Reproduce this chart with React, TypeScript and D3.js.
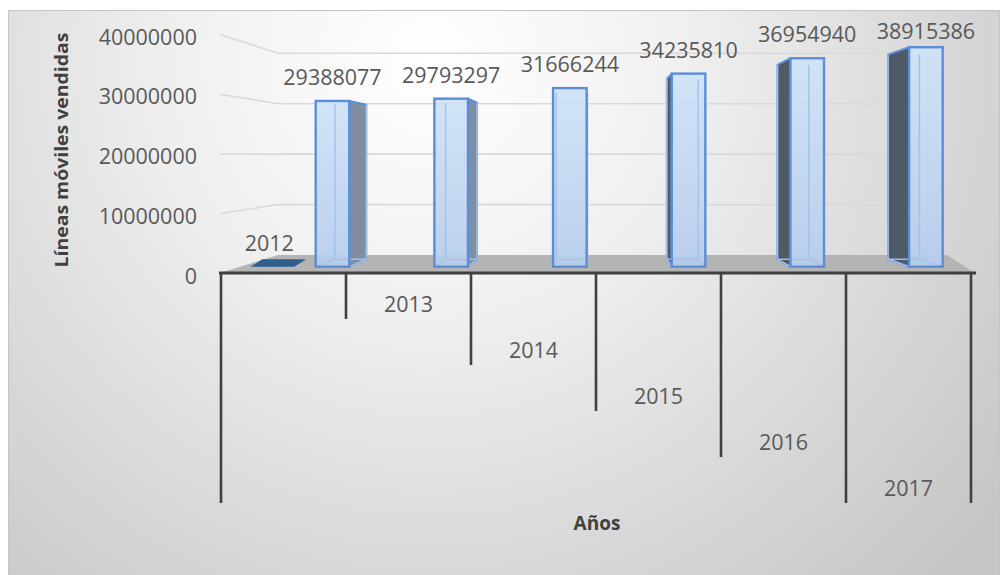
import React from 'react';
import * as d3 from 'd3';

// ---- data ----
const years = ['2012', '2013', '2014', '2015', '2016', '2017'];
const lineas = [2012, 29388077, 29793297, 31666244, 34235810, 36954940, 38915386];
const yTicks = [0, 10000000, 20000000, 30000000, 40000000];
const yTitle = 'Líneas móviles vendidas';
const xTitle = 'Años';

const W = 1000;
const H = 575;
const FONT = "'Open Sans', 'Liberation Sans', sans-serif";
const VP = [599.5, 157];
const K = 0.0679;
const proj = (x: number, y: number, z: number): [number, number] => [
  VP[0] + (x - VP[0]) * (1 - K * z),
  VP[1] + (y - VP[1]) * (1 - K * z),
];
const pts = (a: [number, number][]) => a.map((p) => p.join(',')).join(' ');

export default function App() {
  const frontY = d3.scaleLinear().domain([0, 40000000]).range([273.5, 34.5]);
  const backY = d3.scaleLinear().domain([0, 40000000]).range([255, 53.3]);
  const barY = d3.scaleLinear().domain([0, 40000000]).range([266.7, 41.1]);
  const seg = d3.scaleBand<string>().domain(years).range([221, 971]);
  const bw = seg.bandwidth();
  const barIdx = lineas.slice(1).map((_, i) => String(i + 1));
  const barX = d3.scalePoint<string>().domain(barIdx).range([332.5, 925.9]);
  const level = d3.scaleLinear().domain([0, 5]).range([273, 503]);

  const halfW = 16.8;
  const floorBack = backY(0);
  const floorFront = frontY(0) - 0.5;

  const bars = lineas.map((v, i) => {
    if (i === 0) {
      const cx = (seg(years[0]) as number) + bw * 0.41;
      const yb = barY(0);
      const yt = barY(v);
      const x0 = cx - 22;
      const x1 = cx + 22;
      const top: [number, number][] = [
        [x0, yt],
        [x1, yt],
        [x1 + 12, yb - 7.4],
        [x0 + 12, yb - 7.4],
      ];
      return (
        <g key={i}>
          <polygon points={pts(top)} fill="#2f5f8e" />
          <text x={cx - 3} y={yt - 24.5} textAnchor="middle" dominantBaseline="central"
            fontFamily={FONT} fontSize={21.5} fill="#595959">{String(v)}</text>
        </g>
      );
    }
    const cx = barX(String(i)) as number;
    const x0 = cx - halfW;
    const x1 = cx + halfW;
    const yt = barY(v);
    const yb = barY(0);
    const bTL = proj(x0, yt, 1);
    const bTR = proj(x1, yt, 1);
    const bBL = proj(x0, yb, 1);
    const bBR = proj(x1, yb, 1);
    let side = null;
    if (x1 < VP[0] - 15) {
      side = (
        <polygon points={pts([[x1, yt], bTR, bBR, [x1, yb]])} fill="#7f8ea1"
          stroke="#5b8ed6" strokeWidth={2} strokeLinejoin="round" />
      );
    } else if (x0 > VP[0] + 15) {
      side = (
        <polygon points={pts([[x0, yt], bTL, bBL, [x0, yb]])} fill="#4f5a67"
          stroke="#5b8ed6" strokeWidth={2} strokeLinejoin="round" />
      );
    }
    const labelY = Math.max(yt - 24.5, 30);
    return (
      <g key={i}>
        {side}
        <rect x={x0} y={yt} width={x1 - x0} height={yb - yt} fill="url(#barGrad)" />
        <g stroke="#a3c2ea" strokeWidth={1.4} fill="none">
          <line x1={bTL[0]} y1={bTL[1]} x2={bBL[0]} y2={bBL[1]} />
          <line x1={bTR[0]} y1={bTR[1]} x2={bBR[0]} y2={bBR[1]} />
          <line x1={bBL[0]} y1={bBL[1]} x2={bBR[0]} y2={bBR[1]} />
          <line x1={x0} y1={yb} x2={bBL[0]} y2={bBL[1]} />
          <line x1={x1} y1={yb} x2={bBR[0]} y2={bBR[1]} />
        </g>
        <rect x={x0} y={yt} width={x1 - x0} height={yb - yt} fill="none"
          stroke="#5b8ed6" strokeWidth={2.4} />
        <text x={cx} y={labelY} textAnchor="middle" dominantBaseline="central"
          fontFamily={FONT} fontSize={21.5} fill="#595959">{String(v)}</text>
      </g>
    );
  });

  const boundaries = d3.range(years.length + 1).map((i) =>
    i < years.length ? (seg(years[i]) as number) : seg.range()[1]
  );

  return (
    <svg width={W} height={H} viewBox={`0 0 ${W} ${H}`}
      style={{ position: 'absolute', left: 0, top: 0, background: '#ffffff' }}>
      <defs>
        <radialGradient id="bgGrad" gradientUnits="userSpaceOnUse" cx={430} cy={60} r={720}>
          <stop offset="0" stopColor="#ffffff" />
          <stop offset="0.35" stopColor="#f0f0f0" />
          <stop offset="0.7" stopColor="#d9d9d9" />
          <stop offset="1" stopColor="#c6c6c6" />
        </radialGradient>
        <linearGradient id="barGrad" x1="0" y1="0" x2="0" y2="1">
          <stop offset="0" stopColor="#cfe2f8" stopOpacity={0.92} />
          <stop offset="1" stopColor="#b6cdec" stopOpacity={0.92} />
        </linearGradient>
      </defs>
      <rect x={8.5} y={10.5} width={W - 9} height={H - 10} fill="url(#bgGrad)"
        stroke="#c4c4c4" strokeWidth={1} />

      {/* gridlines */}
      {yTicks.filter((t) => t > 0).map((t) => (
        <polyline key={t} fill="none" stroke="#d9d9d9" strokeWidth={1.6}
          points={pts([[220, frontY(t)], [278, backY(t)], [940, backY(t)]])} />
      ))}

      {/* y tick labels */}
      {yTicks.map((t) => (
        <text key={t} x={197} y={frontY(t) + 1.5} textAnchor="end" dominantBaseline="central"
          fontFamily={FONT} fontSize={21.5} fill="#595959">{String(t)}</text>
      ))}

      {/* floor */}
      <polygon points={pts([[220, floorFront], [278, floorBack], [947, floorBack], [975, floorFront]])}
        fill="#b4b4b4" />

      {bars}

      {/* category axis */}
      <line x1={219} x2={976} y1={floorFront} y2={floorFront} stroke="#404040" strokeWidth={3} />
      {boundaries.map((x, i) => (
        <line key={i} x1={x} x2={x} y1={floorFront} y2={i === 0 ? level(5) : level(Math.min(i, 5))}
          stroke="#404040" strokeWidth={2.6} />
      ))}
      {years.slice(1).map((y, j) => (
        <text key={y} x={(seg(y) as number) + bw / 2} y={level(j) + 30} textAnchor="middle"
          dominantBaseline="central" fontFamily={FONT} fontSize={21.5} fill="#595959">{y}</text>
      ))}

      {/* titles */}
      <text transform="translate(61,150) rotate(-90)" textAnchor="middle" dominantBaseline="central"
        fontFamily={FONT} fontWeight="bold" fontSize={17} fill="#404040"
        textLength={235} lengthAdjust="spacingAndGlyphs">{yTitle}</text>
      <text x={597} y={523} textAnchor="middle" dominantBaseline="central"
        fontFamily={FONT} fontWeight="bold" fontSize={19} fill="#404040">{xTitle}</text>
    </svg>
  );
}
